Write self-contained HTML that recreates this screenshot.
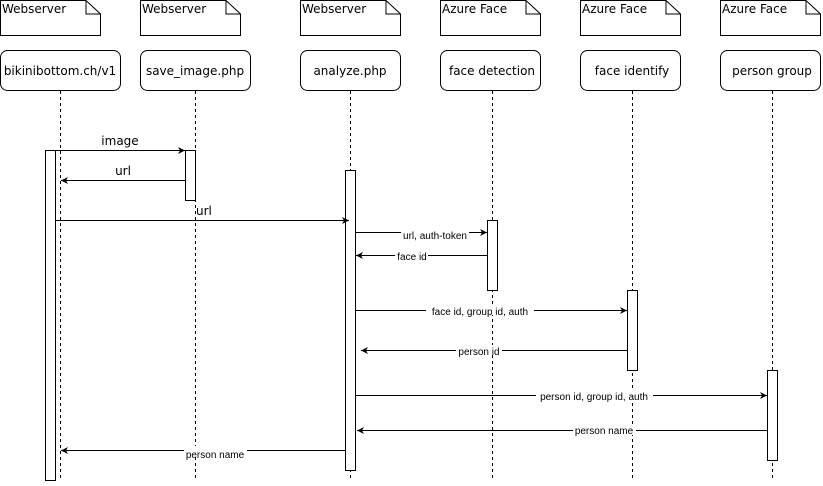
<!DOCTYPE html>
<html><head><style>body{margin:0;background:#fff}</style></head><body>
<svg width="823" height="481" xmlns="http://www.w3.org/2000/svg" font-family="Liberation Sans, DejaVu Sans, sans-serif">
<defs><marker id="a" markerWidth="8" markerHeight="8" refX="7" refY="4" orient="auto" markerUnits="userSpaceOnUse"><path d="M0,0.5 L7,4 L0,7.5 L2,4z" fill="#000"/></marker></defs>
<g fill="#fff" stroke="#000" stroke-width="1">
<g id="n"><path d="M0.5,0.5 H86 L100.5,14 V35.5 H0.5Z"/><path d="M86,0.5 V14 H100.5" fill="none"/></g>
<use href="#n" x="140"/><use href="#n" x="300"/><use href="#n" x="440"/><use href="#n" x="580"/><use href="#n" x="720"/>
<rect x="0.5" y="50.5" width="120" height="40" rx="7"/>
<rect x="140.5" y="50.5" width="110" height="40" rx="7"/>
<rect x="300.5" y="50.5" width="100" height="40" rx="7"/>
<rect x="440.5" y="50.5" width="100" height="40" rx="7"/>
<rect x="580.5" y="50.5" width="100" height="40" rx="7"/>
<rect x="720.5" y="50.5" width="100" height="40" rx="7"/>
</g>
<g stroke="#000" stroke-dasharray="3,3">
<line x1="60.5" y1="91" x2="60.5" y2="481"/><line x1="195.5" y1="91" x2="195.5" y2="481"/>
<line x1="350.5" y1="91" x2="350.5" y2="481"/><line x1="492.5" y1="91" x2="492.5" y2="481"/>
<line x1="632.5" y1="91" x2="632.5" y2="481"/><line x1="772.5" y1="91" x2="772.5" y2="481"/>
</g>
<g fill="#fff" stroke="#000">
<rect x="45.5" y="150.5" width="10" height="330"/>
<rect x="185.5" y="150.5" width="10" height="50"/>
<rect x="345.5" y="170.5" width="10" height="300"/>
<rect x="487.5" y="220.5" width="10" height="70"/>
<rect x="627.5" y="290.5" width="10" height="80"/>
<rect x="767.5" y="370.5" width="10" height="90"/>
</g>
<g stroke="#000" marker-end="url(#a)">
<line x1="55" y1="150.5" x2="185" y2="150.5"/>
<line x1="185" y1="180.5" x2="61" y2="180.5"/>
<line x1="55" y1="220.5" x2="349" y2="220.5"/>
<line x1="355" y1="232.5" x2="487" y2="232.5"/>
<line x1="487" y1="255.5" x2="356" y2="255.5"/>
<line x1="355" y1="310.5" x2="627" y2="310.5"/>
<line x1="627" y1="350.5" x2="361" y2="350.5"/>
<line x1="355" y1="395.5" x2="767" y2="395.5"/>
<line x1="767" y1="430.5" x2="357" y2="430.5"/>
<line x1="345" y1="450.5" x2="61" y2="450.5"/>
</g>
<g font-size="12" font-family="DejaVu Sans, sans-serif">
<text x="2" y="13">Webserver</text><text x="142" y="13">Webserver</text><text x="302" y="13">Webserver</text>
<text x="442" y="13">Azure Face</text><text x="582" y="13">Azure Face</text><text x="722" y="13">Azure Face</text>
<g text-anchor="middle"><text x="60" y="75">bikinibottom.ch/v1</text><text x="195" y="75">save_image.php</text>
<text x="350" y="75">analyze.php</text><text x="492" y="75">face detection</text><text x="632" y="75">face identify</text><text x="772" y="75">person group</text>
<text x="120" y="145">image</text><text x="123" y="175">url</text></g>
<text x="196" y="215">url</text>
</g>
<g font-size="10" text-anchor="middle">
<rect x="401" y="229" width="68" height="10" fill="#fff"/><text x="435" y="239">url, auth-token</text>
<rect x="395" y="251" width="33" height="10" fill="#fff"/><text x="412" y="260">face id</text>
<rect x="426" y="305" width="108" height="10" fill="#fff"/><text x="480" y="315">face id, group id, auth</text>
<rect x="456" y="345" width="46" height="10" fill="#fff"/><text x="479" y="355">person id</text>
<rect x="536" y="390" width="117" height="10" fill="#fff"/><text x="594" y="400">person id, group id, auth</text>
<rect x="573" y="425" width="63" height="10" fill="#fff"/><text x="604" y="434">person name</text>
<rect x="184" y="446" width="63" height="10" fill="#fff"/><text x="215" y="458">person name</text>
</g>
</svg>
</body></html>
